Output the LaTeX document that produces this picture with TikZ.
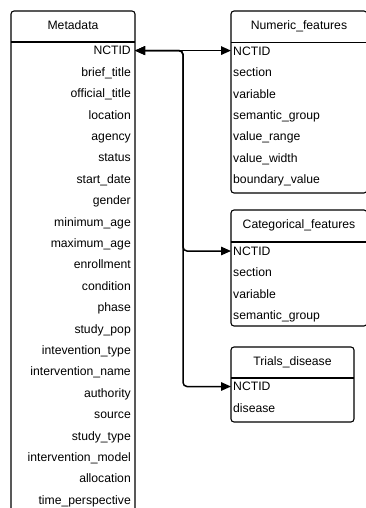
\documentclass[tikz,border=0pt]{standalone}
\usepackage{fontspec}
\setmainfont{Liberation Sans}
\usetikzlibrary{arrows.meta}
\tikzset{
  boxline/.style={draw=black, line width=1.1pt, rounded corners=3pt},
  sepline/.style={draw=black, line width=1.1pt},
  cell/.style={font=\fontsize{12.2}{14}\selectfont, inner ysep=0pt, text height=11.2pt, text depth=2.5pt},
  mrow/.style={cell, anchor=east, inner xsep=4pt, text width=116pt, align=right},
  lrow/.style={cell, anchor=west, inner xsep=2pt, text width=132pt, align=left},
  hdr/.style={cell, inner xsep=0pt},
  conn/.style={draw=black, line width=1.5pt, rounded corners=4pt, {Triangle[length=10pt,width=8.5pt]}-{Triangle[length=10pt,width=8.5pt]}}
}
\begin{document}
\begin{tikzpicture}[x=1pt,y=-1pt]
\useasboundingbox (0,0) rectangle (365,508);
% Metadata table (open at bottom)
\draw[boxline] (11,530) -- (11,11) -- (135,11) -- (135,530);
\draw[sepline] (11,42) -- (135,42);
\node[hdr] (mh) at (73,25.5) {Metadata};
\foreach \t [count=\i] in {NCTID,brief\_title,official\_title,location,agency,status,start\_date,gender,minimum\_age,maximum\_age,enrollment,condition,phase,study\_pop,intevention\_type,intervention\_name,authority,source,study\_type,intervention\_model,allocation,time\_perspective}
  \node[mrow] (m\i) at (135,{50.6+21.4*(\i-1)}) {\t};
% Numeric_features
\draw[boxline] (231,11) rectangle (367,193);
\draw[sepline] (231,42.5) -- (367,42.5);
\node[hdr] (nh) at (299,25.5) {Numeric\_features};
\foreach \t [count=\i] in {NCTID,section,variable,semantic\_group,value\_range,value\_width,boundary\_value}
  \node[lrow] (n\i) at (231,{51+21.4*(\i-1)}) {\t};
% Categorical_features
\draw[boxline] (231,210) rectangle (367,326);
\draw[sepline] (231,242) -- (367,242);
\node[hdr] (ch) at (299,224.5) {Categorical\_features};
\foreach \t [count=\i] in {NCTID,section,variable,semantic\_group}
  \node[lrow] (c\i) at (231,{251+21.4*(\i-1)}) {\t};
% Trials_disease
\draw[boxline] (231,347) rectangle (354,422);
\draw[sepline] (231,378) -- (354,378);
\node[hdr] (th) at (292.5,361.5) {Trials\_disease};
\foreach \t [count=\i] in {NCTID,disease}
  \node[lrow] (t\i) at (231,{386.5+21.4*(\i-1)}) {\t};
% connectors
\coordinate (bus) at (183,51);
\draw[conn] (m1.east) -- (m1.east -| n1.west);
\draw[conn] (m1.east) -- (m1.east -| bus) |- (c1.west);
\draw[conn] (m1.east) -- (m1.east -| bus) |- (t1.west);
\end{tikzpicture}
\end{document}
